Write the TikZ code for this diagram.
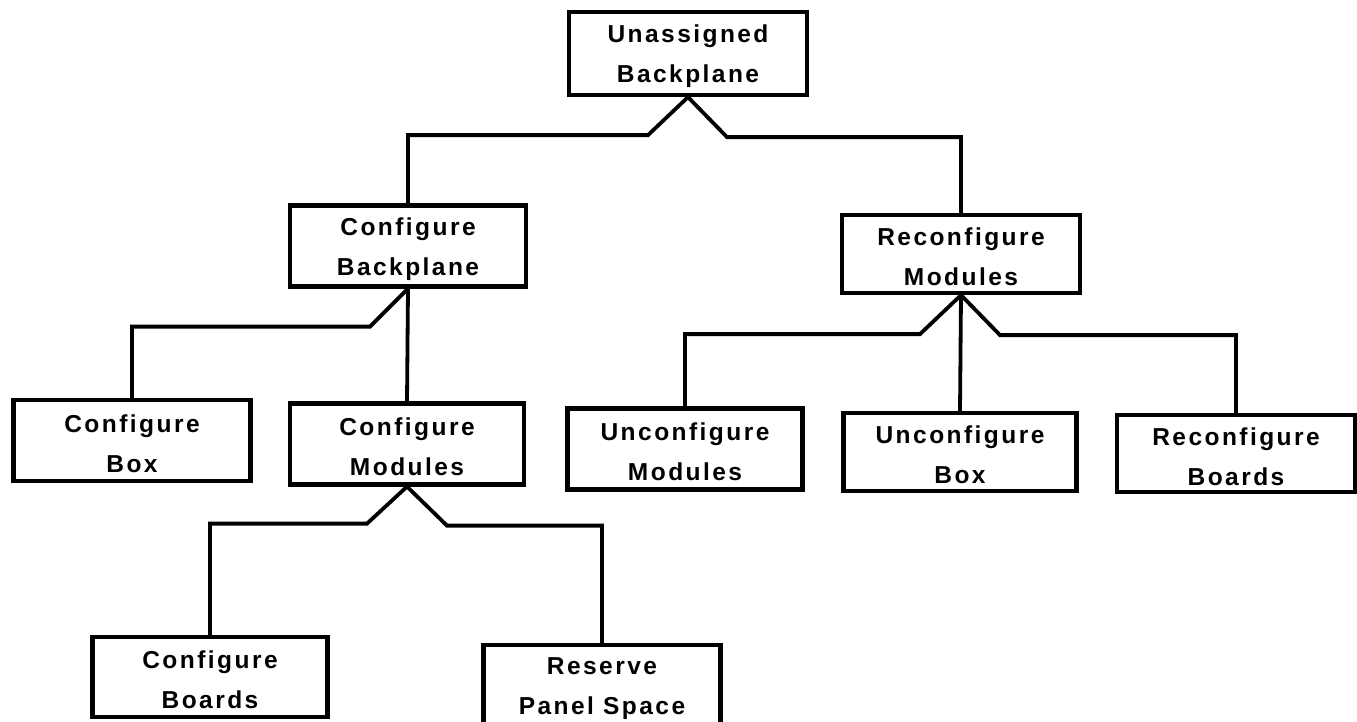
\documentclass[tikz,border=0pt]{standalone}
\usepackage{fontspec}
\newfontfamily\boxfont[LetterSpace=10]{Liberation Sans}
\newcommand{\twol}[2]{\rule{0pt}{24pt}#1\\#2}
\begin{document}
\begin{tikzpicture}[x=1pt,y=-1pt,
  task/.style={draw=black, line width=4.2pt, inner sep=0pt, align=center,
    minimum height=81pt,
    font=\boxfont\bfseries\fontsize{24.5}{40}\selectfont},
  link/.style={draw=black, line width=3.8pt, line join=miter}]
\useasboundingbox (0,0) rectangle (1357,721);

% tree of tasks
\node[task, minimum width=238pt, minimum height=83pt] (ub)   at (688,53.5) {\twol{Unassigned}{Backplane}};
\node[task, minimum width=236pt] (cbp)  at (408,246)   {\twol{Configure}{Backplane}};
\node[task, minimum width=238pt, minimum height=78pt] (rm)   at (961,254)   {\twol{Reconfigure}{Modules}};
\node[task, minimum width=237pt] (cbox) at (132,440.5) {\twol{Configure}{Box}};
\node[task, minimum width=234pt] (cmod) at (407,444)   {\twol{Configure}{Modules}};
\node[task, minimum width=235pt] (umod) at (685,449)   {\twol{Unconfigure}{Modules}};
\node[task, minimum width=233pt, minimum height=78pt] (ubox) at (960,452)   {\twol{Unconfigure}{Box}};
\node[task, minimum width=238pt, minimum height=77pt] (rb)   at (1236,453.5) {\twol{Reconfigure}{Boards}};
\node[task, minimum width=235pt, minimum height=80pt] (cbrd) at (210,677)   {\twol{Configure}{Boards}};
\node[task, minimum width=237pt, minimum height=80pt] (res)  at (602,685)   {\twol{Reserve}{Panel Space}};

% connectors
\draw[link] (ub.south) -- ++(-40,38) -| (cbp.north);
\draw[link] (ub.south) -- ++(39,40) -| (rm.north);

\draw[link] (cbp.south) -- ++(-38,38) -| (cbox.north);
\draw[link] (cbp.south) -- (cmod.north);

\draw[link] (rm.south) -- ++(-41,39) -| (umod.north);
\draw[link] (rm.south) -- (ubox.north);
\draw[link] (rm.south) -- ++(39,40) -| (rb.north);

\draw[link] (cmod.south) -- ++(-40,37) -| (cbrd.north);
\draw[link] (cmod.south) -- ++(40,39) -| (res.north);
\end{tikzpicture}
\end{document}
